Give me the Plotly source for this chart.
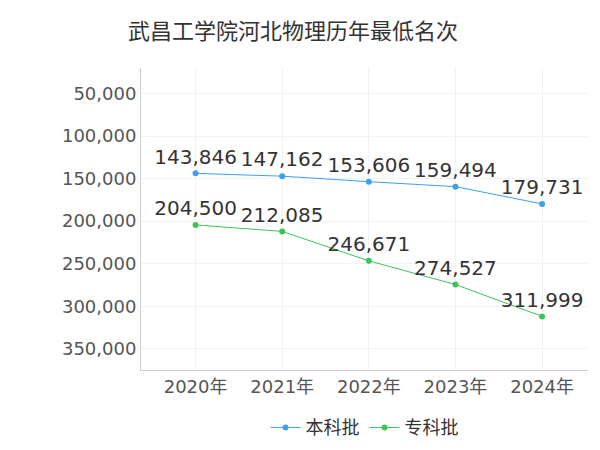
import plotly.graph_objects as go

years = ["2020年", "2021年", "2022年", "2023年", "2024年"]
benke = [143846, 147162, 153606, 159494, 179731]
zhuanke = [204500, 212085, 246671, 274527, 311999]
tick_vals = [50000, 100000, 150000, 200000, 250000, 300000, 350000]

font = "DejaVu Sans, Noto Sans CJK SC"
fig = go.Figure()
for name, vals, color in [("本科批", benke, "#3fa0f0"), ("专科批", zhuanke, "#3cc45a")]:
    fig.add_trace(go.Scatter(
        x=years, y=vals, name=name, mode="lines+markers+text",
        line=dict(color=color, width=1), marker=dict(size=6, color=color),
        text=[f"{v:,}" for v in vals], textposition="top center",
        textfont=dict(size=20, color="#333333"), cliponaxis=False,
    ))

fig.update_layout(
    width=600, height=450,
    title=dict(text="武昌工学院河北物理历年最低名次", x=0.2, y=0.965,
               font=dict(size=22, color="#333333", family="Noto Sans CJK SC")),
    font=dict(family=font, color="#555555"),
    plot_bgcolor="white", paper_bgcolor="white",
    margin=dict(l=133, r=20, t=60, b=80),
    legend=dict(orientation="h", x=0.5, xanchor="center", y=-0.13, font=dict(size=18, color="#333333")),
    showlegend=True,
)
fig.update_xaxes(range=[-0.63, 4.53], showgrid=True, gridcolor="#f2f2f2", showline=True,
                 linecolor="#cccccc", tickfont=dict(size=18), ticks="")
fig.update_yaxes(range=[375000, 20000], tickvals=tick_vals, tickformat=",", showgrid=True,
                 gridcolor="#f2f2f2", zeroline=False, showline=True, linecolor="#cccccc",
                 tickfont=dict(size=18))

fig.write_html("out.html")
